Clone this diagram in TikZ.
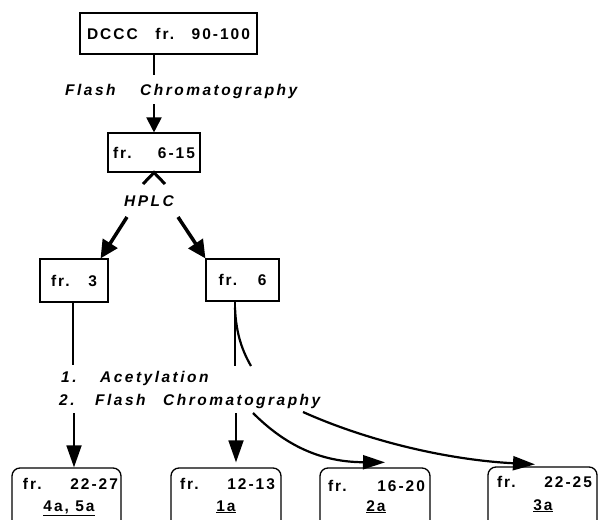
\documentclass[tikz,border=0pt]{standalone}
\usepackage{fontspec}
\setmainfont{Liberation Sans}
\newfontfamily\bxfont[LetterSpace=13]{Liberation Sans}
\newfontfamily\lbfont[LetterSpace=16]{Liberation Sans}
\usetikzlibrary{arrows.meta}
\tikzset{
  sqbox/.style={draw, line width=1.1pt, inner sep=0pt, font=\bxfont\bfseries\fontsize{15.5}{18}\selectfont},
  rbox/.style={draw, line width=1.3pt, rounded corners=8pt, inner sep=0pt, minimum height=64pt},
  btxt/.style={inner sep=0pt, anchor=base, font=\bxfont\bfseries\fontsize{15.5}{18}\selectfont},
  lbl/.style={inner sep=0pt, anchor=base west, font=\lbfont\bfseries\itshape\fontsize{15.5}{18}\selectfont},
  conn/.style={line width=2pt},
  bigarrow/.style={line width=2pt, -{Triangle[length=15pt, width=15pt]}},
  fatarrow/.style={line width=3.5pt, -{Triangle[length=18pt, width=17pt]}},
  longarrow/.style={line width=1.8pt, -{Triangle[length=22pt, width=15pt]}},
  curvearrow/.style={line width=2.2pt, -{Triangle[length=22pt, width=14pt]}}
}
\begin{document}
\begin{tikzpicture}[x=1pt, y=-1pt]
\path[fill=white, use as bounding box] (0,0) rectangle (598,520);

% boxes
\node[sqbox, minimum width=177pt, minimum height=41pt] (dccc) at (168.5,33.5) {\makebox[163pt]{DCCC\hfill fr.\hfill 90-100}};
\node[sqbox, minimum width=92pt, minimum height=39pt] (f615) at (154,152.5) {\makebox[82pt]{fr.\hfill 6-15}};
\node[sqbox, minimum width=68pt, minimum height=43pt] (f3) at (74,280.5) {\makebox[46pt]{fr.\hfill 3}};
\node[sqbox, minimum width=73pt, minimum height=42pt] (f6) at (242.5,280) {\makebox[48pt]{fr.\hfill 6}};

\node[rbox, minimum width=109pt] (b1) at (66.5,500) {};
\node[rbox, minimum width=110pt] (b2) at (226,500) {};
\node[rbox, minimum width=110pt] (b3) at (375,500) {};
\node[rbox, minimum width=109pt] (b4) at (542.5,499) {};

\node[btxt] (t1a) at (70.5,489) {\makebox[95pt]{fr.\hfill 22-27}};
\node[btxt] (t1b) at (69,511) {\underline{4a, 5a}};
\node[btxt] (t2a) at (227.5,489) {\makebox[95pt]{fr.\hfill 12-13}};
\node[btxt] (t2b) at (226,511) {\underline{1a}};
\node[btxt] (t3a) at (376.5,491) {\makebox[97pt]{fr.\hfill 16-20}};
\node[btxt] (t3b) at (376,511) {\underline{2a}};
\node[btxt] (t4a) at (544.5,487) {\makebox[95pt]{fr.\hfill 22-25}};
\node[btxt] (t4b) at (543,510) {\underline{3a}};

% labels
\node[lbl] (fc) at (65,95) {\makebox[75pt][l]{Flash}Chromatography};
\node[inner sep=0pt, anchor=base, font=\lbfont\bfseries\itshape\fontsize{15.5}{18}\selectfont] (hplc) at (149,206) {HPLC};
\node[lbl] (ac) at (61,382) {\makebox[39pt][l]{1.}Acetylation};
\node[lbl] (fc2) at (59,405) {\makebox[36pt][l]{2.}\makebox[68pt][l]{Flash}Chromatography};

% DCCC -> 6-15
\coordinate (s1) at (154,75);
\coordinate (s2) at (154,104);
\draw[conn, line width=2.5pt] (dccc.south -| f615.north) -- (s1);
\draw[bigarrow] (s2) -- (f615.north);

% chevron under 6-15
\coordinate (chl) at (143,184);
\coordinate (chr) at (165,184);
\draw[line width=3pt] (chl) -- (f615.south) -- (chr);

% HPLC arrows
\coordinate (h1) at (127,217);
\coordinate (h2) at (178,217);
\draw[fatarrow] (h1) -- ([xshift=-8pt]f3.north east);
\draw[fatarrow] (h2) -- (f6.north west);

% fr. 3 line
\coordinate (a1) at (73,365);
\coordinate (a2) at (74,413);
\draw[line width=1.6pt] ([xshift=-1pt]f3.south) -- (a1);
\draw[longarrow] (a2) -- ([xshift=7.5pt]b1.north);

% fr. 6 lines
\coordinate (v1) at (235,366);
\coordinate (v2) at (236,413);
\coordinate (cA) at (251,366);
\coordinate (cA2) at (253,413);
\coordinate (cB2) at (303,412);
\draw[line width=2.2pt] ([xshift=-7.5pt]f6.south) -- (v1);
\draw[line width=2.2pt] ([xshift=-7.5pt, yshift=-6pt]f6.south) .. controls (236,335) and (243,352) .. (cA);
\draw[longarrow] (v2) -- ([xshift=10pt, yshift=5pt]b2.north);
\draw[curvearrow] (cA2) .. controls (285,445) and (320,462) .. ([xshift=10pt, yshift=5pt]b3.north);
\draw[curvearrow] (cB2) .. controls (370,442) and (450,460) .. ([xshift=-7.5pt, yshift=2pt]b4.north);
\end{tikzpicture}
\end{document}
